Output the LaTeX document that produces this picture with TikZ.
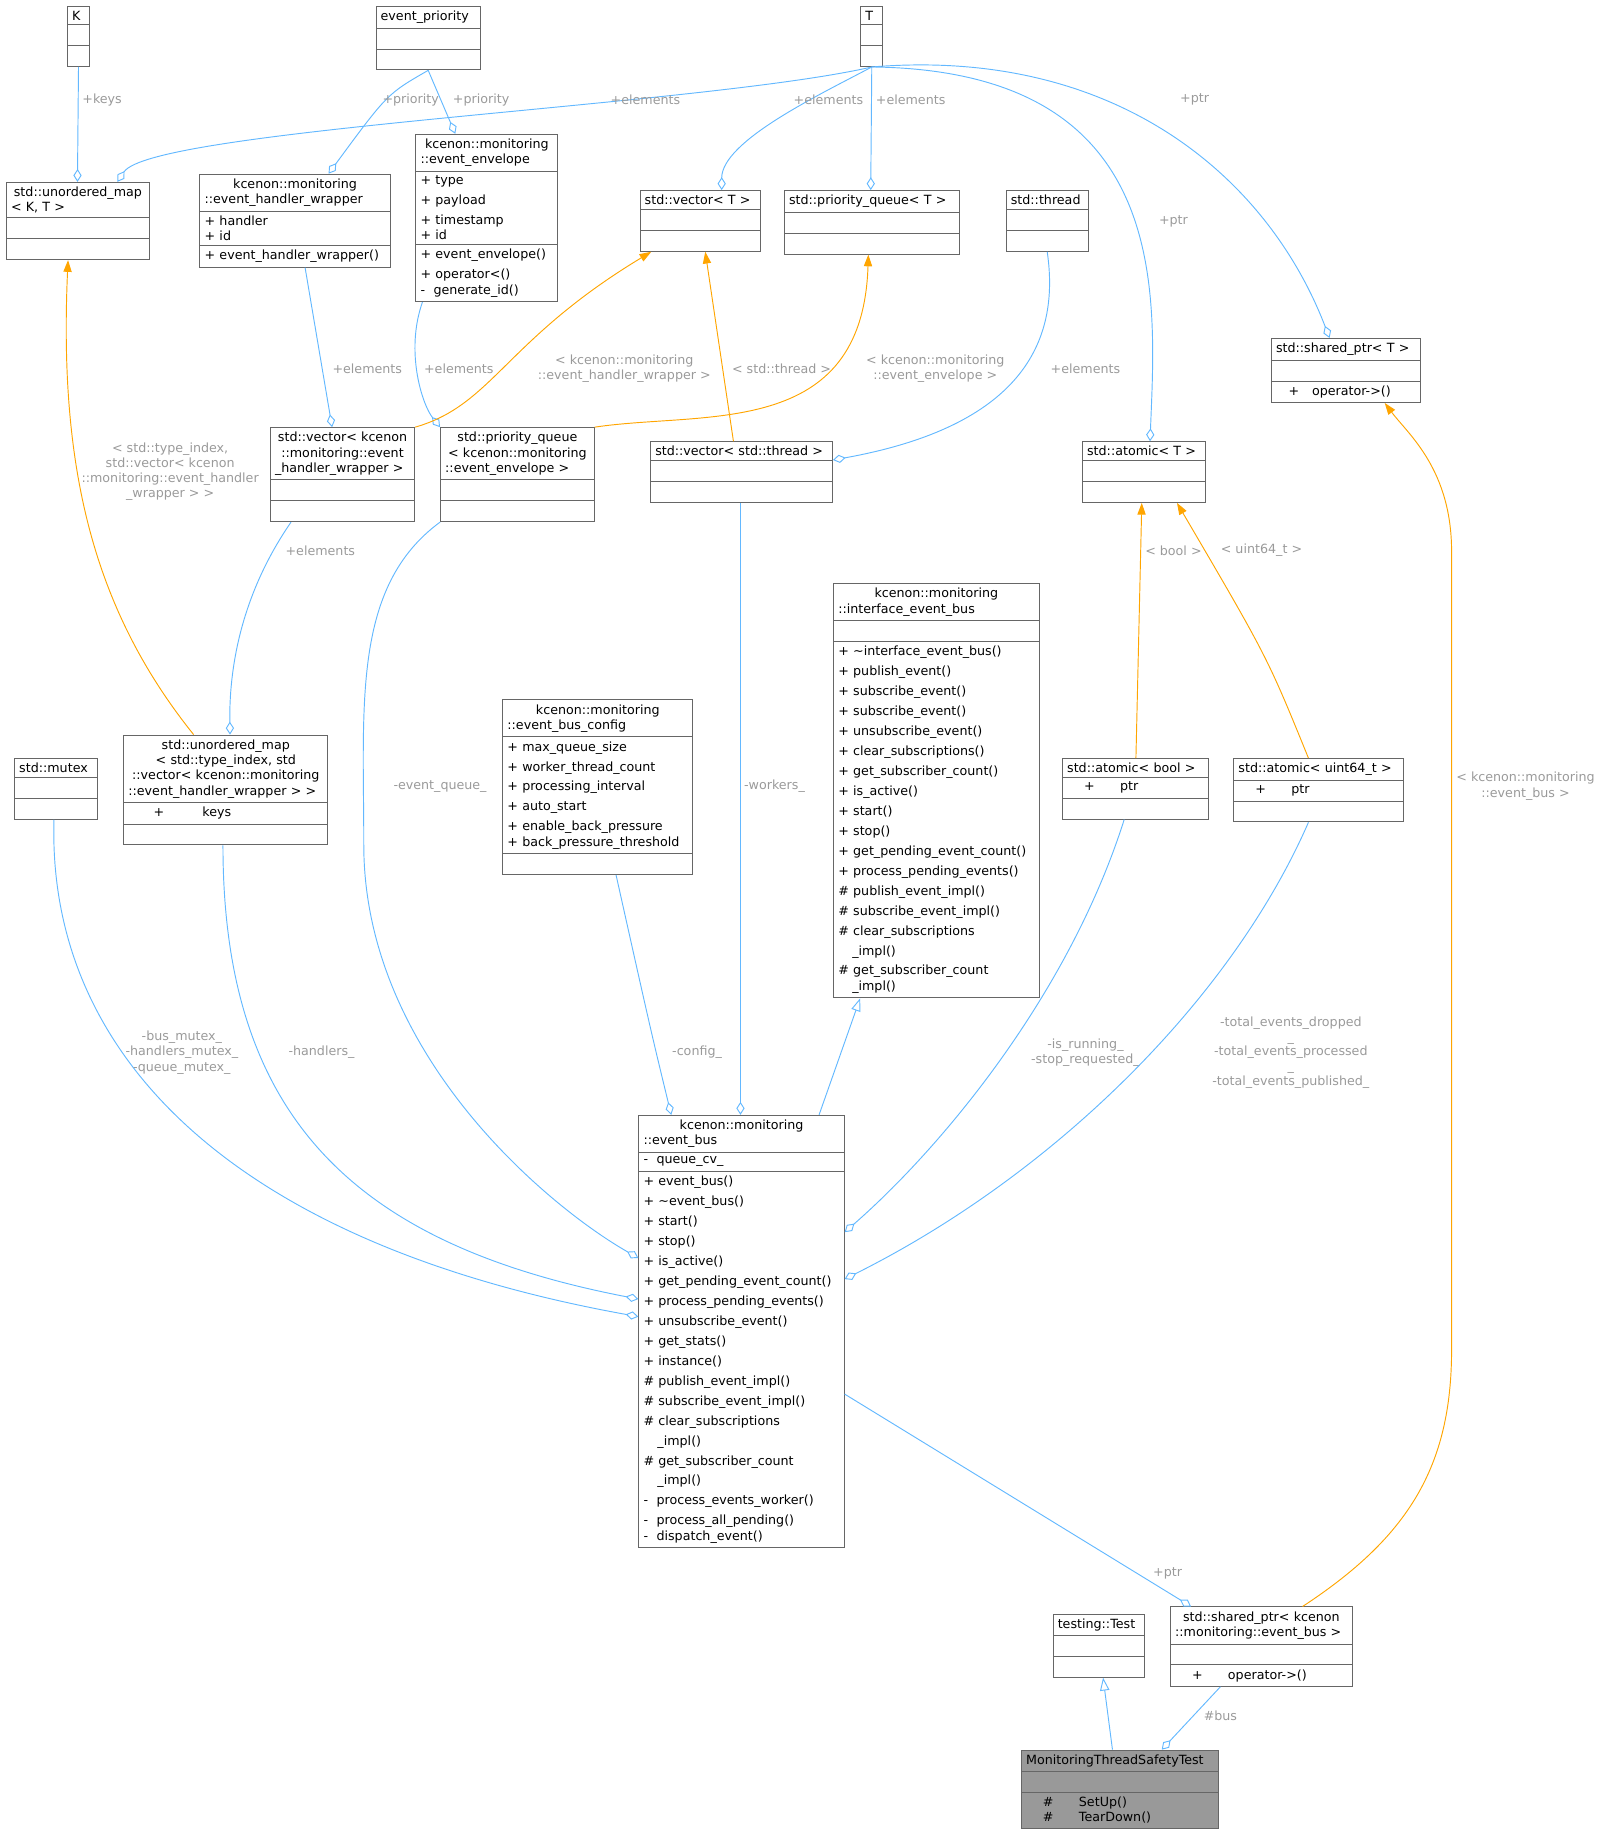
\documentclass[tikz,border=0pt]{standalone}
\usepackage{fontspec}
\setmainfont{DejaVu Sans}
\usetikzlibrary{shapes.multipart,arrows.meta}
\definecolor{edgeblue}{HTML}{63B8FF}
\definecolor{edgeorange}{HTML}{FFA500}
\definecolor{lblgray}{HTML}{9A9A9A}
\newcommand{\emp}{\rule{0pt}{10pt}}
\newcommand{\mbr}{\fontsize{10.8}{17}\selectfont}
\tikzset{
  cls/.style={rectangle split, rectangle split parts=3, draw=black!60, fill=white,
    line width=0.8pt, anchor=north west, align=left, inner xsep=4pt, inner ysep=3.5pt,
    font=\fontsize{10.8}{13}\selectfont},
  agg/.style={draw=edgeblue, line width=0.8pt, -{Diamond[open,length=11pt,width=7pt]}},
  inst/.style={draw=edgeorange, line width=0.8pt, -{Triangle[length=10pt,width=7pt]}},
  inh/.style={draw=edgeblue, line width=0.8pt, -{Triangle[open,length=11pt,width=8pt]}},
  lbl/.style={text=lblgray, font=\fontsize{10.8}{13}\selectfont, align=center}
}
\begin{document}
\begin{tikzpicture}[x=1pt,y=-1pt]
    \useasboundingbox (0,0) rectangle (1366,1568);

    % Template parameters and plain classes
    \node[cls, text width=11pt] (K) at (57,5) {\centering K\nodepart{second}\emp\nodepart{third}\emp};
    \node[cls, text width=81pt] (prio) at (320,5) {\centering event\_priority\nodepart{second}\emp\nodepart{third}\emp};
    \node[cls, text width=11pt] (T) at (733,5) {\centering T\nodepart{second}\emp\nodepart{third}\emp};
    \node[cls, text width=114pt] (umapKT) at (5,155) {\centering std::unordered\_map\\< K, T >\nodepart{second}\emp\nodepart{third}\emp};
    \node[cls, text width=154pt] (ehw) at (170,148) {\centering kcenon::monitoring\\::event\_handler\_wrapper
        \nodepart{second}\mbr + handler\\+ id\nodepart{third}\mbr + event\_handler\_wrapper()};
    \node[cls, text width=113pt] (env) at (354,114) {\centering kcenon::monitoring\\::event\_envelope
        \nodepart{second}\mbr + type\\+ payload\\+ timestamp\\+ id
        \nodepart{third}\mbr + event\_envelope()\\+ operator<()\\-\ \ generate\_id()};
    \node[cls, text width=95pt] (vecT) at (545,162) {\centering std::vector< T >\nodepart{second}\emp\nodepart{third}\emp};
    \node[cls, text width=141pt] (pqT) at (668,162) {\centering std::priority\_queue< T >\nodepart{second}\emp\nodepart{third}\emp};
    \node[cls, text width=62pt] (thread) at (857,162) {\centering std::thread\nodepart{second}\emp\nodepart{third}\emp};
    \node[cls, text width=119pt] (sptrT) at (1083,288) {\centering std::shared\_ptr< T >\nodepart{second}\emp\nodepart{third}\mbr\quad+\quad operator->()};

    % Instantiations
    \node[cls, text width=115pt] (vecEhw) at (230,364) {\centering std::vector< kcenon\\::monitoring::event\\\_handler\_wrapper >\nodepart{second}\emp\nodepart{third}\emp};
    \node[cls, text width=123pt] (pqEnv) at (375,364) {\centering std::priority\_queue\\< kcenon::monitoring\\::event\_envelope >\nodepart{second}\emp\nodepart{third}\emp};
    \node[cls, text width=147pt] (vecThr) at (554,376) {\centering std::vector< std::thread >\nodepart{second}\emp\nodepart{third}\emp};
    \node[cls, text width=97pt] (atomT) at (922,376) {\centering std::atomic< T >\nodepart{second}\emp\nodepart{third}\emp};
    \node[cls, text width=167pt] (ieb) at (710,497) {\centering kcenon::monitoring\\::interface\_event\_bus
        \nodepart{second}\emp
        \nodepart{third}\mbr + \textasciitilde interface\_event\_bus()\\+ publish\_event()\\+ subscribe\_event()\\+ subscribe\_event()\\+ unsubscribe\_event()\\+ clear\_subscriptions()\\+ get\_subscriber\_count()\\+ is\_active()\\+ start()\\+ stop()\\+ get\_pending\_event\_count()\\+ process\_pending\_events()\\\#\ publish\_event\_impl()\\\#\ subscribe\_event\_impl()\\\#\ clear\_subscriptions\\\hspace*{1.1em}\_impl()\\\#\ get\_subscriber\_count\\\hspace*{1.1em}\_impl()};
    \node[cls, text width=154pt] (cfg) at (428,596) {\centering kcenon::monitoring\\::event\_bus\_config
        \nodepart{second}\mbr + max\_queue\_size\\+ worker\_thread\_count\\+ processing\_interval\\+ auto\_start\\+ enable\_back\_pressure\\+ back\_pressure\_threshold
        \nodepart{third}\emp};
    \node[cls, text width=63pt] (mutex) at (12,646) {\centering std::mutex\nodepart{second}\emp\nodepart{third}\emp};
    \node[cls, text width=166pt] (umapTI) at (105,626) {\centering std::unordered\_map\\< std::type\_index, std\\::vector< kcenon::monitoring\\::event\_handler\_wrapper > >
        \nodepart{second}\mbr\quad\quad+\qquad\quad keys\nodepart{third}\emp};
    \node[cls, text width=116pt] (atomB) at (905,646) {\centering std::atomic< bool >\nodepart{second}\mbr\quad\ +\qquad ptr\nodepart{third}\emp};
    \node[cls, text width=137pt] (atomU) at (1051,646) {\centering std::atomic< uint64\_t >\nodepart{second}\mbr\quad\ +\qquad ptr\nodepart{third}\emp};

    % Main class and test fixture
    \node[cls, text width=167pt] (bus) at (544,950) {\centering kcenon::monitoring\\::event\_bus
        \nodepart{second}\mbr -\ \ queue\_cv\_
        \nodepart{third}\mbr + event\_bus()\\+ \textasciitilde event\_bus()\\+ start()\\+ stop()\\+ is\_active()\\+ get\_pending\_event\_count()\\+ process\_pending\_events()\\+ unsubscribe\_event()\\+ get\_stats()\\+ instance()\\\#\ publish\_event\_impl()\\\#\ subscribe\_event\_impl()\\\#\ clear\_subscriptions\\\hspace*{1.1em}\_impl()\\\#\ get\_subscriber\_count\\\hspace*{1.1em}\_impl()\\-\ \ process\_events\_worker()\\-\ \ process\_all\_pending()\\-\ \ dispatch\_event()};
    \node[cls, text width=70pt] (test) at (897,1375) {\centering testing::Test\nodepart{second}\emp\nodepart{third}\emp};
    \node[cls, text width=147pt] (sptrBus) at (997,1369) {\centering std::shared\_ptr< kcenon\\::monitoring::event\_bus >
        \nodepart{second}\emp\nodepart{third}\mbr\quad\ +\qquad operator->()};
    \node[cls, text width=160pt, fill=black!40] (mtst) at (870,1491) {\centering MonitoringThreadSafetyTest
        \nodepart{second}\emp\nodepart{third}\mbr\quad\ \#\qquad SetUp()\\\quad\ \#\qquad TearDown()};

    % Members from the template parameters
    \draw[agg] (K.south) -- (umapKT.north -| 66,0);
    \node[lbl] (lKeys) at (87,85) {+keys};
    \draw[agg] (T.south) .. controls (600,90) and (130,110) .. (umapKT.north -| 100,0);
    \node[lbl] (lEl1) at (550,85) {+elements};
    \draw[agg] (T.south) .. controls (700,80) and (615,120) .. (vecT.north -| 615,0);
    \node[lbl] (lEl2) at (706,85) {+elements};
    \draw[agg] (T.south) -- (pqT.north -| 742,0);
    \node[lbl] (lEl3) at (776,85) {+elements};
    \draw[agg] (T.south) .. controls (1000,60) and (985,250) .. (atomT.north -| 980,0);
    \node[lbl] (lPtr1) at (1000,189) {+ptr};
    \draw[agg] (T.south) .. controls (950,40) and (1080,150) .. (sptrT.north -| 1133,0);
    \node[lbl] (lPtr2) at (1018,85) {+ptr};
    \draw[agg] (prio.south) .. controls (330,80) .. (ehw.north -| 280,0);
    \node[lbl] (lPr1) at (350,85) {+priority};
    \draw[agg] (prio.south) -- (env.north -| 388,0);
    \node[lbl] (lPr2) at (410,85) {+priority};

    % Container elements
    \draw[agg] (ehw.south -| 260,0) -- (vecEhw.north -| 283,0);
    \node[lbl] (lEl4) at (313,314) {+elements};
    \draw[agg] (env.south -| 360,0) .. controls (345,300) and (360,345) .. (pqEnv.north west);
    \node[lbl] (lEl5) at (391,314) {+elements};
    \draw[agg] (thread.south) .. controls (905,300) and (860,365) .. (vecThr.east |- 0,392);
    \node[lbl] (lEl6) at (925,314) {+elements};
    \draw[agg] (vecEhw.south -| 248,0) .. controls (210,500) and (195,560) .. (umapTI.north -| 196,0);
    \node[lbl] (lEl7) at (273,469) {+elements};

    % Template instantiations
    \draw[inst] (vecEhw.north east) .. controls (420,345) and (430,290) .. (vecT.south -| 555,0);
    \node[lbl] (lI1) at (532,314) {< kcenon::monitoring\\::event\_handler\_wrapper >};
    \draw[inst] (vecThr.north -| 625,0) -- (vecT.south -| 601,0);
    \node[lbl] (lI2) at (666,314) {< std::thread >};
    \draw[inst] (pqEnv.north east) .. controls (600,350) and (735,375) .. (pqT.south -| 740,0);
    \node[lbl] (lI3) at (797,314) {< kcenon::monitoring\\::event\_envelope >};
    \draw[inst] (umapTI.north -| 165,0) .. controls (80,520) and (50,400) .. (umapKT.south -| 58,0);
    \node[lbl] (lI4) at (145,402) {< std::type\_index,\\std::vector< kcenon\\::monitoring::event\_handler\\\_wrapper > >};
    \draw[inst] (atomB.north -| 968,0) -- (atomT.south -| 973,0);
    \node[lbl] (lI5) at (1000,469) {< bool >};
    \draw[inst] (atomU.north -| 1115,0) .. controls (1080,560) .. (atomT.south -| 1003,0);
    \node[lbl] (lI6) at (1075,469) {< uint64\_t >};
    \draw[inst] (sptrBus.north -| 1110,0) .. controls (1200,1310) and (1237,1250) .. (1237,1150)
        -- (1237,470) .. controls (1237,400) and (1200,370) .. (sptrT.south -| 1180,0);
    \node[lbl] (lI7) at (1300,670) {< kcenon::monitoring\\::event\_bus >};

    % Members of the event bus
    \draw[agg] (mutex.south -| 46,0) .. controls (40,900) and (200,1060) .. (bus.west |- 0,1122);
    \node[lbl] (lMx) at (155,897) {-bus\_mutex\_\\-handlers\_mutex\_\\-queue\_mutex\_};
    \draw[agg] (umapTI.south -| 190,0) .. controls (190,950) and (300,1060) .. (bus.west |- 0,1107);
    \node[lbl] (lHd) at (274,897) {-handlers\_};
    \draw[agg] (pqEnv.south -| 375,0) .. controls (300,500) and (310,600) .. (310,720)
        .. controls (310,900) and (470,1030) .. (bus.west |- 0,1072);
    \node[lbl] (lEq) at (375,670) {-event\_queue\_};
    \draw[agg] (cfg.south -| 525,0) .. controls (555,880) .. (bus.north -| 572,0);
    \node[lbl] (lCf) at (594,897) {-config\_};
    \draw[agg] (vecThr.south -| 631,0) -- (bus.north -| 631,0);
    \node[lbl] (lWk) at (660,670) {-workers\_};
    \draw[inh] (bus.north -| 698,0) -- (ieb.south -| 733,0);
    \draw[agg] (atomB.south -| 958,0) .. controls (910,850) and (800,980) .. (bus.east |- 0,1050);
    \node[lbl] (lRn) at (925,897) {-is\_running\_\\-stop\_requested\_};
    \draw[agg] (atomU.south -| 1115,0) .. controls (1050,850) and (900,1000) .. (bus.east |- 0,1090);
    \node[lbl, font=\fontsize{10.8}{12.5}\selectfont] (lTot) at (1100,897) {-total\_events\_dropped\\\_\\-total\_events\_processed\\\_\\-total\_events\_published\_};

    % Test fixture
    \draw[agg] (bus.east |- 0,1188) -- (sptrBus.north -| 1015,0);
    \node[lbl] (lPtr3) at (995,1341) {+ptr};
    \draw[inh] (mtst.north -| 948,0) -- (test.south -| 940,0);
    \draw[agg] (sptrBus.south -| 1040,0) -- (mtst.north -| 990,0);
    \node[lbl] (lBus) at (1040,1462) {\#bus};
\end{tikzpicture}
\end{document}
